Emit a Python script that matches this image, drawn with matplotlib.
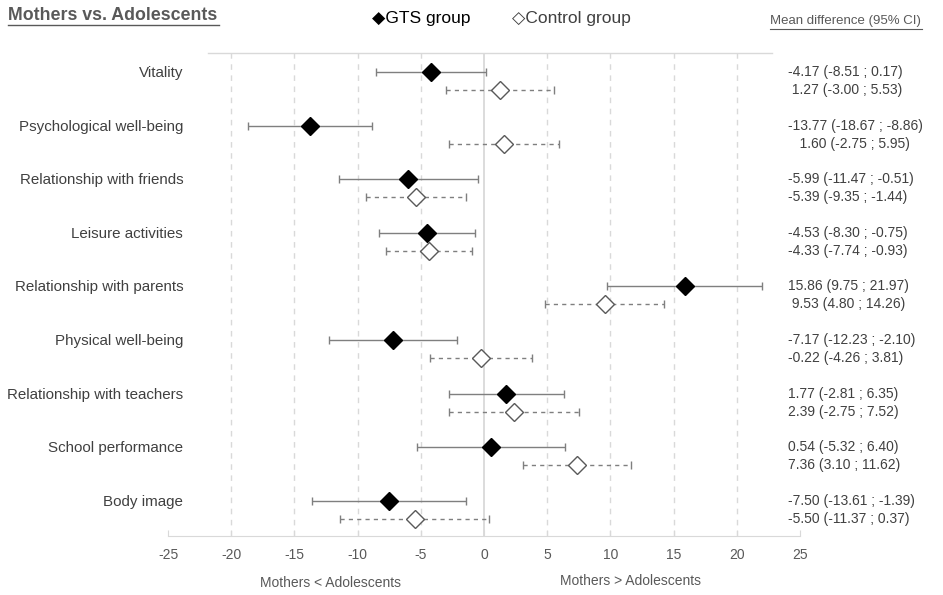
import matplotlib.pyplot as plt
import numpy as np

plt.rcParams['font.family'] = ['Liberation Sans', 'DejaVu Sans']

# Data
categories = ['Vitality', 'Psychological well-being', 'Relationship with friends',
              'Leisure activities', 'Relationship with parents', 'Physical well-being',
              'Relationship with teachers', 'School performance', 'Body image']
gts_mean = [-4.17, -13.77, -5.99, -4.53, 15.86, -7.17, 1.77, 0.54, -7.50]
gts_low = [-8.51, -18.67, -11.47, -8.30, 9.75, -12.23, -2.81, -5.32, -13.61]
gts_high = [0.17, -8.86, -0.51, -0.75, 21.97, -2.10, 6.35, 6.40, -1.39]
ctl_mean = [1.27, 1.60, -5.39, -4.33, 9.53, -0.22, 2.39, 7.36, -5.50]
ctl_low = [-3.00, -2.75, -9.35, -7.74, 4.80, -4.26, -2.75, 3.10, -11.37]
ctl_high = [5.53, 5.95, -1.44, -0.93, 14.26, 3.81, 7.52, 11.62, 0.37]
xticks = [-25, -20, -15, -10, -5, 0, 5, 10, 15, 20, 25]

txt = '#595959'
grid = '#d9d9d9'

fig = plt.figure(figsize=(9.43, 5.95), dpi=100)
ax = fig.add_axes([0.1782, 0.0992, 0.6702, 0.8118])

y_gts = np.arange(len(categories))
y_ctl = y_gts + 0.336

# grid lines
for x in xticks[1:-1]:
    if x == 0:
        ax.axvline(0, color=grid, lw=1.3, zorder=0)
    else:
        ax.axvline(x, color=grid, lw=1, ls=(0, (4, 4)), zorder=0)
ax.axhline(-0.354, xmin=0.063, xmax=0.955, color=grid, lw=1, clip_on=False)

# GTS group
g_err = [np.array(gts_mean) - np.array(gts_low), np.array(gts_high) - np.array(gts_mean)]
ax.errorbar(gts_mean, y_gts, xerr=g_err, fmt='none', ecolor='#7f7f7f',
            elinewidth=1, capsize=3, capthick=1, zorder=2)
ax.plot(gts_mean, y_gts, 'D', color='black', markersize=9, zorder=3)

# Control group
c_err = [np.array(ctl_mean) - np.array(ctl_low), np.array(ctl_high) - np.array(ctl_mean)]
eb = ax.errorbar(ctl_mean, y_ctl, xerr=c_err, fmt='none', ecolor='#7f7f7f',
                 elinewidth=1, capsize=3, capthick=1, zorder=2)
eb[2][0].set_linestyle((0, (3, 3)))
ax.plot(ctl_mean, y_ctl, 'D', markerfacecolor='white', markeredgecolor='#595959',
        markeredgewidth=1, markersize=9.5, zorder=3)

ax.set_xlim(-25, 25)
ax.set_ylim(8.657, -0.354)
ax.set_xticks(xticks)
ax.set_xticklabels([str(x) for x in xticks])
ax.tick_params(axis='x', direction='in', length=4, color=grid, labelcolor=txt,
               labelsize=10, pad=9)
ax.set_yticks([])
for s in ['top', 'left', 'right']:
    ax.spines[s].set_visible(False)
ax.spines['bottom'].set_color(grid)

# category labels
for i, c in enumerate(categories):
    ax.text(-23.8, y_gts[i] + 0.02, c, ha='right', va='center', fontsize=10.9,
            color='#404040')

# right-side numbers
def fmt(m, lo, hi):
    return f'{m:.2f} ({lo:.2f} ; {hi:.2f})'

for i in range(len(categories)):
    s1 = fmt(gts_mean[i], gts_low[i], gts_high[i])
    s2 = fmt(ctl_mean[i], ctl_low[i], ctl_high[i])
    fig.text(788 / 943, 1 - (72 + 53.6 * i) / 595, s1, ha='left', va='center',
             fontsize=10, color='#404040')
    pad = ''
    if ctl_mean[i] >= 0 and gts_mean[i] < 0:
        pad = ' '
    if i == 1:
        pad = '   '
    if i == 4:
        pad = ' '
    fig.text(788 / 943, 1 - (90 + 53.6 * i) / 595, pad + s2, ha='left', va='center',
             fontsize=10, color='#404040')

# titles and legend
fig.text(8 / 943, 1 - 16 / 595, 'Mothers vs. Adolescents', ha='left', va='center',
         fontsize=12.8, fontweight='bold', color=txt)
fig.add_artist(plt.Line2D([8 / 943, 219 / 943], [1 - 25 / 595, 1 - 25 / 595],
                          color=txt, lw=1))
fig.text(770 / 943, 1 - 21 / 595, 'Mean difference (95% CI)', ha='left', va='center',
         fontsize=9.5, color=txt)
fig.add_artist(plt.Line2D([770 / 943, 922 / 943], [1 - 29 / 595, 1 - 29 / 595],
                          color=txt, lw=0.8))

fig.text(372 / 943, 1 - 18 / 595, '\u25C6GTS group', ha='left', va='center',
         fontsize=12.5, color='black')
fig.text(512 / 943, 1 - 18 / 595, '\u25C7Control group', ha='left', va='center',
         fontsize=12.5, color='#404040')

fig.text(331 / 943, 1 - 583 / 595, 'Mothers < Adolescents', ha='center', va='center',
         fontsize=10, color=txt)
fig.text(630 / 943, 1 - 581 / 595, 'Mothers > Adolescents', ha='center', va='center',
         fontsize=10, color=txt)

fig.savefig('out.png', dpi=100)
